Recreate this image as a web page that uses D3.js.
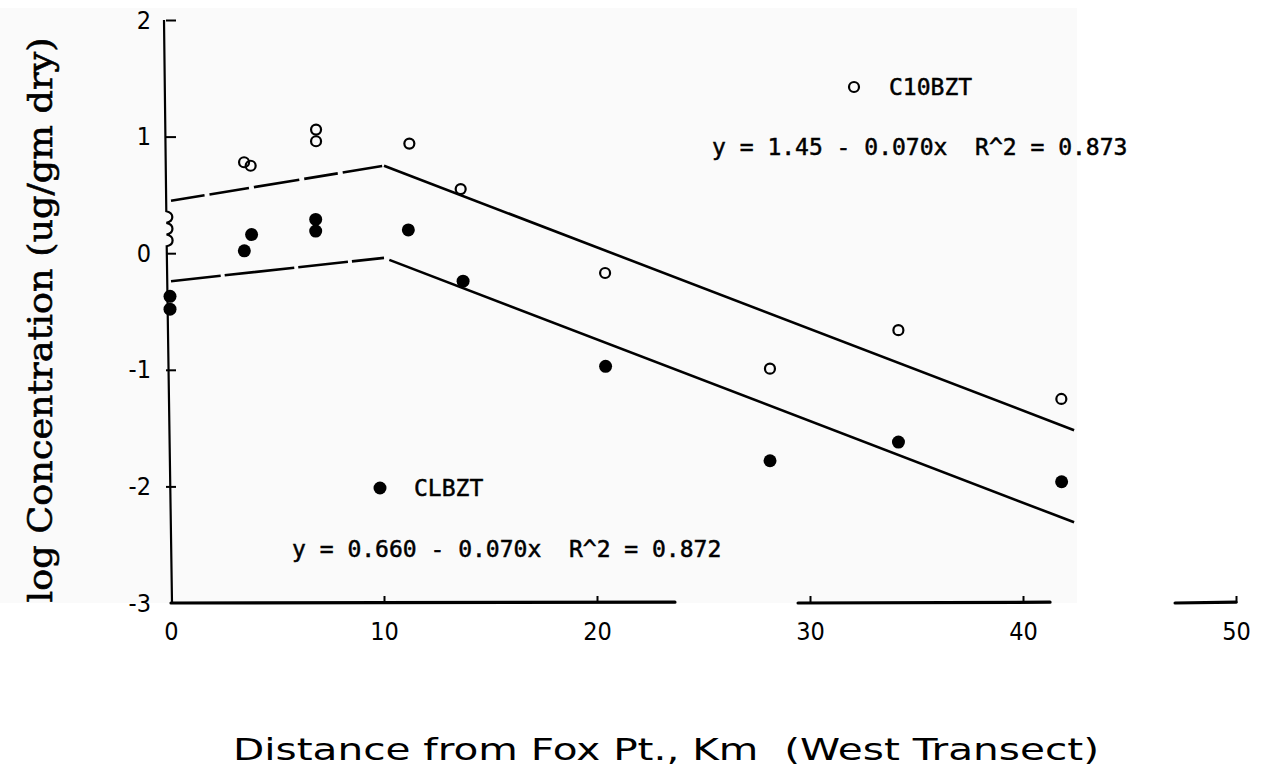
<!DOCTYPE html>
<html><head><meta charset="utf-8">
<script src="https://cdn.jsdelivr.net/npm/d3@7"></script>
<style>
html,body{margin:0;padding:0;background:#fff;}
svg{display:block;}
</style></head>
<body>
<svg id="chart" width="1264" height="769"></svg>
<script>
// C10BZT (open circles): distance from Fox Pt. (km) and log concentration
const c10Distance = [3.43, 3.74, 6.81, 6.81, 11.19, 13.6, 20.38, 28.12, 34.15, 41.8];
const c10LogConc  = [0.78, 0.75, 1.06, 0.96, 0.94, 0.55, -0.17, -0.99, -0.66, -1.25];
// CLBZT (filled circles)
const clDistance = [0, 0, 3.49, 3.83, 6.84, 6.84, 11.19, 13.76, 20.45, 28.17, 34.2, 41.86];
const clLogConc  = [-0.37, -0.48, 0.02, 0.16, 0.29, 0.19, 0.20, -0.24, -0.97, -1.78, -1.62, -1.96];

// regression fits past the 10 km break: y = a - b x
const fitNames = ["C10BZT", "CLBZT"];
const fitInterceptText = ["1.45", "0.660"];
const fitSlopeText = ["0.070", "0.070"];
const fitR2Text = ["0.873", "0.872"];
// near-shore (0-10 km) segment starting values
const nearShoreStart = [0.45, -0.24];
const fitBreakKm = 10;
const fitEndKm = 42.4;

const xTicks = [0, 10, 20, 30, 40, 50];
const yTicks = [2, 1, 0, -1, -2, -3];
// drawn pieces of the distance axis line
const xAxisPieces = [[0, 23.66], [29.44, 41.27], [47.14, 50]];

const svg = d3.select("#chart");
const x = d3.scaleLinear().domain([0, 50]).range([171, 1236]);
const y = d3.scaleLinear().domain([-3, 2]).range([603, 20]);

// faint tone of the plotted sheet
svg.append("rect").attr("x", 0).attr("y", 8).attr("width", 1077).attr("height", 595)
  .attr("fill", "#fafafa");

const tickFont = "'Liberation Sans Narrow','DejaVu Sans Condensed','DejaVu Sans',sans-serif";
const monoFont = "'DejaVu Sans Mono','Liberation Mono',monospace";

// ---- y axis line with break squiggle ----
const ax0 = x(0);
const yTop = y(2), yBot = y(-3);
const sqTop = y(0.36), sqBot = y(0.06);
// axis drifts slightly right toward the bottom
const sx = v => ax0 - 7 + 7 * (v - yTop) / (yBot - yTop);
const sq = d3.path();
sq.moveTo(sx(yTop), yTop);
sq.lineTo(sx(sqTop), sqTop);
const bumps = 3, seg = (sqBot - sqTop) / bumps;
for (let i = 0; i < bumps; i++) {
  const y0 = sqTop + i * seg;
  sq.bezierCurveTo(sx(y0) + 8, y0 + seg * 0.15, sx(y0) + 8, y0 + seg * 0.85, sx(y0 + seg), y0 + seg);
}
sq.lineTo(sx(yBot) + 1, yBot);
svg.append("path").attr("d", sq.toString()).attr("fill", "none")
  .attr("stroke", "#000").attr("stroke-width", 2.2);

// y ticks (pointing inward) and labels
const yAxisG = svg.append("g").attr("transform", `translate(${ax0 - 5},0)`)
  .call(d3.axisLeft(y).tickValues(yTicks).tickSize(-10).tickPadding(15)
    .tickFormat(d => d < 0 ? "-" + Math.abs(d) : String(d)));
yAxisG.select(".domain").remove();
yAxisG.selectAll(".tick line").attr("stroke", "#000").attr("stroke-width", 2)
  .filter(d => d === -3).remove();
yAxisG.selectAll(".tick text").attr("font-family", tickFont).attr("font-size", 25)
  .attr("fill", "#000");

// ---- x axis: broken line pieces, upward ticks, labels ----
svg.append("g").selectAll("line").data(xAxisPieces).join("line")
  .attr("x1", d => x(d[0])).attr("x2", d => x(d[1]))
  .attr("y1", y(-3)).attr("y2", y(-3) - 0.8)
  .attr("stroke", "#000").attr("stroke-width", 3.2).attr("stroke-linecap", "round");
const xAxisG = svg.append("g").attr("transform", `translate(0,${y(-3)})`)
  .call(d3.axisBottom(x).tickValues(xTicks).tickSize(-7).tickPadding(19));
xAxisG.select(".domain").remove();
xAxisG.selectAll(".tick line").attr("stroke", "#000").attr("stroke-width", 2)
  .filter(d => d === 0).remove();
xAxisG.selectAll(".tick text").attr("font-family", tickFont).attr("font-size", 25)
  .attr("fill", "#000");

// ---- fitted lines ----
const fitLine = d3.line().x(d => x(d[0])).y(d => y(d[1]));
fitNames.forEach((name, i) => {
  const a = +fitInterceptText[i], b = +fitSlopeText[i];
  const f = d => a - b * d;
  // near-shore dashed piece
  svg.append("path").attr("d", fitLine([[0, nearShoreStart[i]], [fitBreakKm, f(fitBreakKm)]]))
    .attr("fill", "none").attr("stroke", "#000").attr("stroke-width", 2.6)
    .attr("stroke-dasharray", i === 0 ? "34,5,40,5,46,5" : "50,4,70,4");
  // offshore solid fit
  const startKm = i === 0 ? fitBreakKm : fitBreakKm + 0.25;
  svg.append("path").attr("d", fitLine([[startKm, f(startKm)], [fitEndKm, f(fitEndKm)]]))
    .attr("fill", "none").attr("stroke", "#000").attr("stroke-width", 2.6);
});

// ---- data points ----
svg.append("g").selectAll("circle").data(c10Distance.map((d, i) => [d, c10LogConc[i]]))
  .join("circle").attr("cx", d => x(d[0])).attr("cy", d => y(d[1])).attr("r", 5)
  .attr("fill", "none").attr("stroke", "#000").attr("stroke-width", 2.2);
svg.append("g").selectAll("circle").data(clDistance.map((d, i) => [d, clLogConc[i]]))
  .join("circle").attr("cx", d => x(d[0]) - 1).attr("cy", d => y(d[1])).attr("r", 6.5)
  .attr("fill", "#000");

// ---- legends and fit equations ----
const eqText = i => `y = ${fitInterceptText[i]} - ${fitSlopeText[i]}x  R^2 = ${fitR2Text[i]}`;
const labelStyle = sel => sel.attr("font-family", monoFont).attr("font-size", 23)
  .attr("stroke", "#000").attr("stroke-width", 0.5).style("white-space", "pre");
svg.append("circle").attr("cx", 854).attr("cy", 87).attr("r", 5)
  .attr("fill", "none").attr("stroke", "#000").attr("stroke-width", 2.2);
svg.append("text").attr("x", 889).attr("y", 95).text(fitNames[0]).call(labelStyle);
svg.append("text").attr("x", 712).attr("y", 155).text(eqText(0)).call(labelStyle);

svg.append("circle").attr("cx", 380).attr("cy", 488).attr("r", 6.5).attr("fill", "#000");
svg.append("text").attr("x", 414).attr("y", 496).text(fitNames[1]).call(labelStyle);
svg.append("text").attr("x", 292).attr("y", 557).text(eqText(1)).call(labelStyle);

// ---- axis titles ----
svg.append("text").attr("transform", "translate(52,320) rotate(-90)")
  .attr("text-anchor", "middle").attr("font-family", "'DejaVu Serif','Liberation Serif',serif")
  .attr("font-size", 34).attr("textLength", 565).attr("lengthAdjust", "spacingAndGlyphs")
  .attr("stroke", "#000").attr("stroke-width", 0.6)
  .text("log Concentration (ug/gm dry)");
svg.append("text").attr("x", 666).attr("y", 760).attr("text-anchor", "middle")
  .attr("font-family", "'DejaVu Sans',sans-serif").attr("font-size", 31)
  .attr("textLength", 866).attr("lengthAdjust", "spacingAndGlyphs")
  .style("white-space", "pre")
  .text("Distance from Fox Pt., Km  (West Transect)");
</script>
</body></html>
